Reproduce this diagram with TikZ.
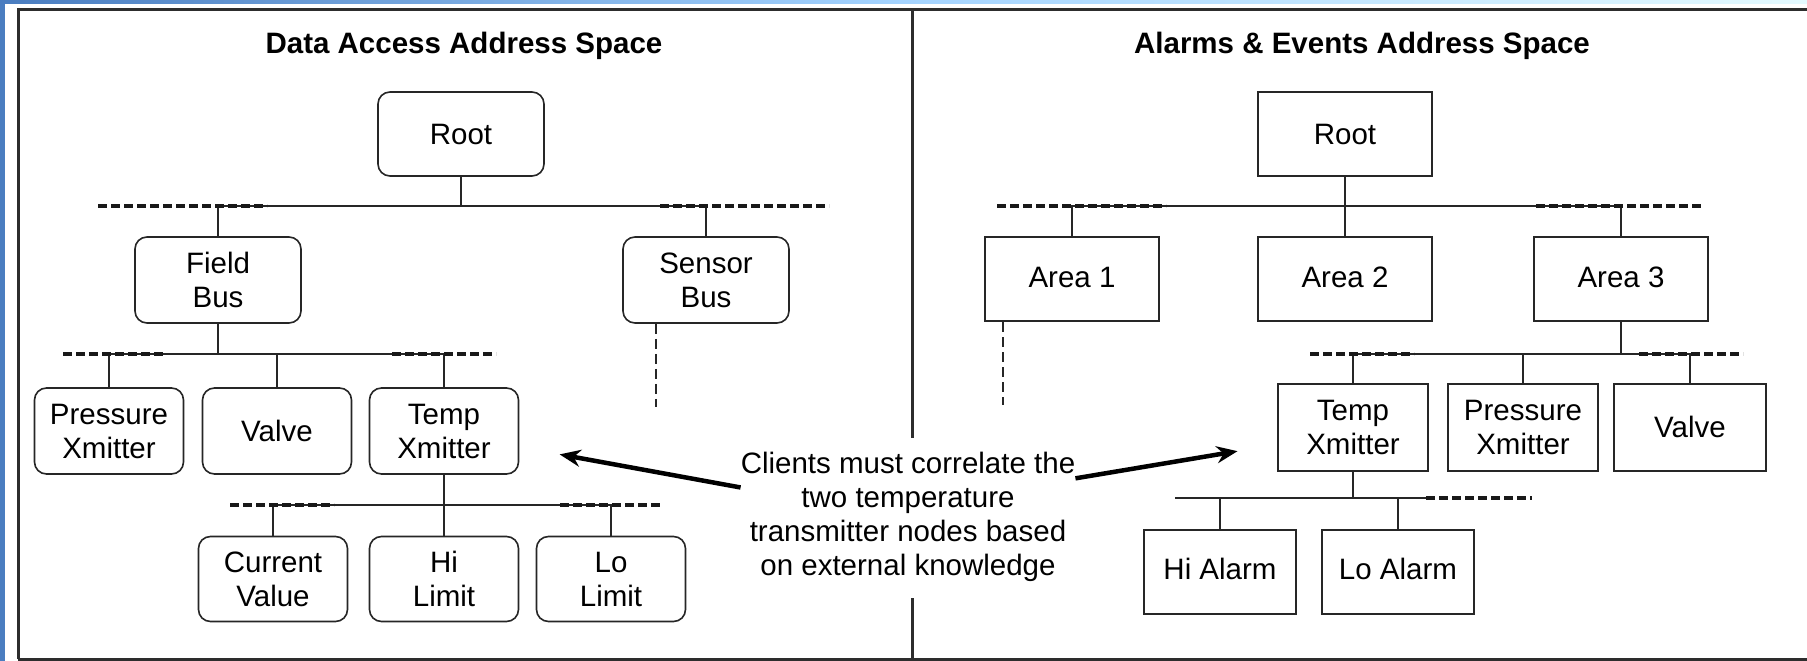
\documentclass[tikz,border=0pt]{standalone}
\usepackage{fontspec}
\setmainfont{Liberation Sans}
\usetikzlibrary{arrows.meta}

\definecolor{slideblue}{RGB}{74,125,192}
\definecolor{slidemid}{RGB}{165,212,255}
\definecolor{slidecyan}{RGB}{228,250,255}
\definecolor{framegray}{RGB}{45,45,45}

\tikzset{
  frame/.style={draw=framegray, line width=3pt},
  dabox/.style={draw=black!85, line width=1.6pt, rounded corners=12pt, align=center,
    minimum width=149pt, minimum height=86pt, inner sep=0pt},
  aebox/.style={draw=black!85, line width=2pt, align=center,
    minimum width=152pt, minimum height=85pt, inner sep=0pt},
  bus/.style={draw=black!85, line width=2pt},
  busdash/.style={draw=black!90, line width=4pt, dash pattern=on 9pt off 4pt},
  linkdash/.style={draw=black!85, line width=2pt, dash pattern=on 10pt off 5pt},
  callarrow/.style={->, line width=4.5pt, black},
}

\begin{document}
\begin{tikzpicture}[x=1pt, y=-1pt, >={Stealth[length=21pt,width=17pt]},
  font=\fontsize{29.5}{34}\selectfont]
\useasboundingbox (0,0) rectangle (1807,661);

% slide background
\fill[white] (0,0) rectangle (1807,661);
\shade[left color=slideblue, right color=slidecyan, middle color=slidemid] (0,0) rectangle (1807,4);
\fill[slideblue] (0,0) rectangle (5,661);

% outer frame and divider
\draw[frame] (18,659) -- (18,10) -- (1812,10);
\draw[frame] (18,659) -- (1812,659);
\draw[frame] (912,10) -- (912,438);
\draw[frame] (912,598) -- (912,659);

% titles
\node[font=\fontsize{29.5}{34}\selectfont\bfseries] (latitle) at (464,46) {Data Access Address Space};
\node[font=\fontsize{29.5}{34}\selectfont\bfseries] (rtitle) at (1362,46) {Alarms \& Events Address Space};

% bus levels
\coordinate (lbusA) at (0,206);
\coordinate (lbusB) at (0,354);
\coordinate (lbusC) at (0,505);
\coordinate (rbusA) at (0,206);
\coordinate (rbusB) at (0,354);
\coordinate (rbusCl) at (1175,498);
\coordinate (rbusCr) at (1426,498);

%%% data access tree
\node[dabox, minimum width=166pt, minimum height=84pt] (lroot) at (461,134) {Root};
\node[dabox, minimum width=166pt] (lfield) at (218,280) {Field\\Bus};
\node[dabox, minimum width=166pt] (lsensor) at (706,280) {Sensor\\Bus};
\node[dabox] (lpress) at (109,431) {Pressure\\Xmitter};
\node[dabox] (lvalve) at (277,431) {Valve};
\node[dabox] (ltemp) at (444,431) {Temp\\Xmitter};
\node[dabox, minimum height=85pt] (lcur) at (273,579) {Current\\Value};
\node[dabox, minimum height=85pt] (lhi) at (444,579) {Hi\\Limit};
\node[dabox, minimum height=85pt] (llo) at (611,579) {Lo\\Limit};

\draw[bus] (lroot.south) -- (lroot.south |- lbusA);
\draw[bus] (lfield.north) |- (lsensor.north |- lbusA) -- (lsensor.north);
\draw[bus] (lfield.south) -- (lfield.south |- lbusB);
\draw[bus] (lpress.north) |- (ltemp.north |- lbusB) -- (ltemp.north);
\draw[bus] (lvalve.north) -- (lvalve.north |- lbusB);
\draw[bus] (ltemp.south) -- (lhi.north);
\draw[bus] (lcur.north) |- (llo.north |- lbusC) -- (llo.north);
\coordinate (lsensend) at (656,407);
\draw[linkdash] (lsensend |- lsensor.south) -- (lsensend);

%%% alarms and events tree
\node[aebox, minimum width=174pt, minimum height=84pt] (rroot) at (1345,134) {Root};
\node[aebox, minimum width=174pt, minimum height=84pt] (rarea1) at (1072,279) {\raisebox{4pt}{Area 1}};
\node[aebox, minimum width=174pt, minimum height=84pt] (rarea2) at (1345,279) {\raisebox{4pt}{Area 2}};
\node[aebox, minimum width=174pt, minimum height=84pt] (rarea3) at (1621,279) {\raisebox{4pt}{Area 3}};
\node[aebox, minimum width=150pt, minimum height=87pt] (rtemp) at (1353,427) {Temp\\Xmitter};
\node[aebox, minimum width=150pt, minimum height=87pt] (rpress) at (1523,427) {Pressure\\Xmitter};
\node[aebox, minimum height=87pt] (rvalve) at (1690,427) {Valve};
\node[aebox, minimum height=84pt] (rhi) at (1220,572) {\raisebox{6pt}{Hi Alarm}};
\node[aebox, minimum height=84pt] (rlo) at (1398,572) {\raisebox{6pt}{Lo Alarm}};

\draw[bus] (rroot.south) -- (rarea2.north);
\draw[bus] (rarea1.north) |- (rarea3.north |- rbusA) -- (rarea3.north);
\draw[bus] (rarea3.south) -- (rarea3.south |- rbusB);
\draw[bus] (rtemp.north) |- (rvalve.north |- rbusB) -- (rvalve.north);
\draw[bus] (rpress.north) -- (rpress.north |- rbusB);
\draw[bus] (rtemp.south) -- (rtemp.south |- rbusCl);
\draw[bus] (rbusCl) -- (rbusCr);
\draw[bus] (rhi.north) -- (rhi.north |- rbusCl);
\draw[bus] (rlo.north) -- (rlo.north |- rbusCl);
\coordinate (rareaend) at (1003,405);
\draw[linkdash] (rareaend |- rarea1.south) -- (rareaend);

% dashed bus ends
\foreach \a/\b/\y in {98/267/206, 660/829/206, 63/164/354, 392/496/354, 230/334/505, 560/663/505,
                      997/1166/206, 1536/1704/206, 1310/1414/354, 1639/1743/354}
  \draw[busdash] (\a,\y) -- (\b,\y);
\draw[busdash] (rbusCr) -- (1532,498);

% callout
\node[align=center, inner sep=0pt] (callout) at (908,517)
  {Clients must correlate the\\two temperature\\transmitter nodes based\\on external knowledge};
\draw[callarrow, shorten >=41pt] (callout.170) -- (ltemp.-12);
\draw[callarrow, shorten >=40pt] (callout.13) -- (rtemp.193);

\end{tikzpicture}
\end{document}
